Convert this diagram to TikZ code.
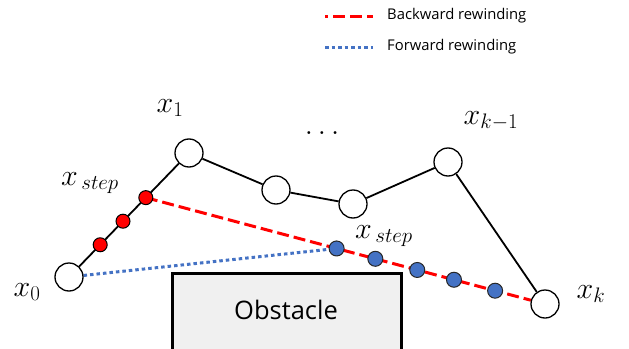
\RequirePackage{fix-cm}
\documentclass[tikz,border=0pt]{standalone}
\usepackage{fontspec}
\newfontfamily\lgfont{Open Sans}
\usetikzlibrary{calc,backgrounds}
\DeclareMathSizes{30}{30}{21}{16}
\definecolor{fwdblue}{HTML}{4472C4}
\definecolor{bwdred}{HTML}{FF0000}
\definecolor{obsgray}{HTML}{F0F0F0}
\begin{document}
\begin{tikzpicture}[x=1pt,y=-1pt,
  wpt/.style={circle,draw=black,line width=1.3pt,fill=white,minimum size=28pt,inner sep=0pt},
  rpt/.style={circle,draw=black,line width=1pt,fill=bwdred,minimum size=14pt,inner sep=0pt},
  bpt/.style={circle,draw=black!85,line width=1pt,fill=fwdblue,minimum size=15pt,inner sep=0pt},
  trajline/.style={line width=1.8pt,black},
  bwd/.style={bwdred,line width=3pt,dash pattern=on 12pt off 5pt},
  fwd/.style={fwdblue,line width=3pt,dash pattern=on 3.5pt off 3pt},
  lbl/.style={font=\fontsize{30}{34}\selectfont,inner sep=0pt},
  legtxt/.style={font=\lgfont\fontsize{14.8}{18}\selectfont,anchor=west,inner sep=0pt}
]
\useasboundingbox (0,0) rectangle (629,348);
% obstacle
\fill[obsgray] (172,273) rectangle (401,352);
\draw[line width=3pt] (172,352) -- (172,273) -- (401,273) -- (401,352);
\node[font=\lgfont\fontsize{25.5}{30}\selectfont] (obs) at (286,310) {Obstacle};
% trajectory nodes
\node[wpt] (x0) at (69,277) {};
\node[wpt] (x1) at (189,153) {};
\node[wpt] (x2) at (276,190) {};
\node[wpt] (x3) at (353,204) {};
\node[wpt] (xk1) at (448,162) {};
\node[wpt] (xk) at (545,304) {};
% red steps
\node[rpt] (r1) at ($(x0)!0.26!(x1)$) {};
\node[rpt] (r2) at ($(x0)!0.45!(x1)$) {};
\node[rpt] (r3) at ($(x0)!0.64!(x1)$) {};
% blue steps
\node[bpt] (b1) at ($(r3)!0.478!(xk)$) {};
\node[bpt] (b2) at ($(r3)!0.575!(xk)$) {};
\node[bpt] (b3) at ($(r3)!0.68!(xk)$) {};
\node[bpt] (b4) at ($(r3)!0.772!(xk)$) {};
\node[bpt] (b5) at ($(r3)!0.875!(xk)$) {};
% connectors
\begin{pgfonlayer}{background}
\draw[trajline] (x0) -- (x1) -- (x2) -- (x3) -- (xk1) -- (xk);
\draw[bwd] (r3.center) -- (xk);
\draw[fwd] (x0) -- (b1.center);
\end{pgfonlayer}
% labels
\node[lbl] (lx0) at (27,292) {$x_0$};
\node[lbl] (lx1) at (170,108) {$x_1$};
\node[lbl] (lxk1) at (491,121) {$x_{k-1}$};
\node[lbl] (lxk) at (591,294) {$x_k$};
\node[lbl] (ls1) at (90,183) {$x_{\,step}$};
\node[lbl] (ls2) at (384,236) {$x_{\,step}$};
\node[lbl,anchor=base] (dots) at (322,134) {$\ldots$};
% legend
\coordinate (la1) at (325,16);
\coordinate (la2) at (373,16);
\coordinate (lb1) at (325,47);
\coordinate (lb2) at (373,47);
\draw[bwd,dash phase=9pt] (la1) -- (la2);
\draw[fwd] (lb1) -- (lb2);
\node[legtxt] (lta) at (387,16) {Backward rewinding};
\node[legtxt] (ltb) at (387,47) {Forward rewinding};
\end{tikzpicture}
\end{document}
